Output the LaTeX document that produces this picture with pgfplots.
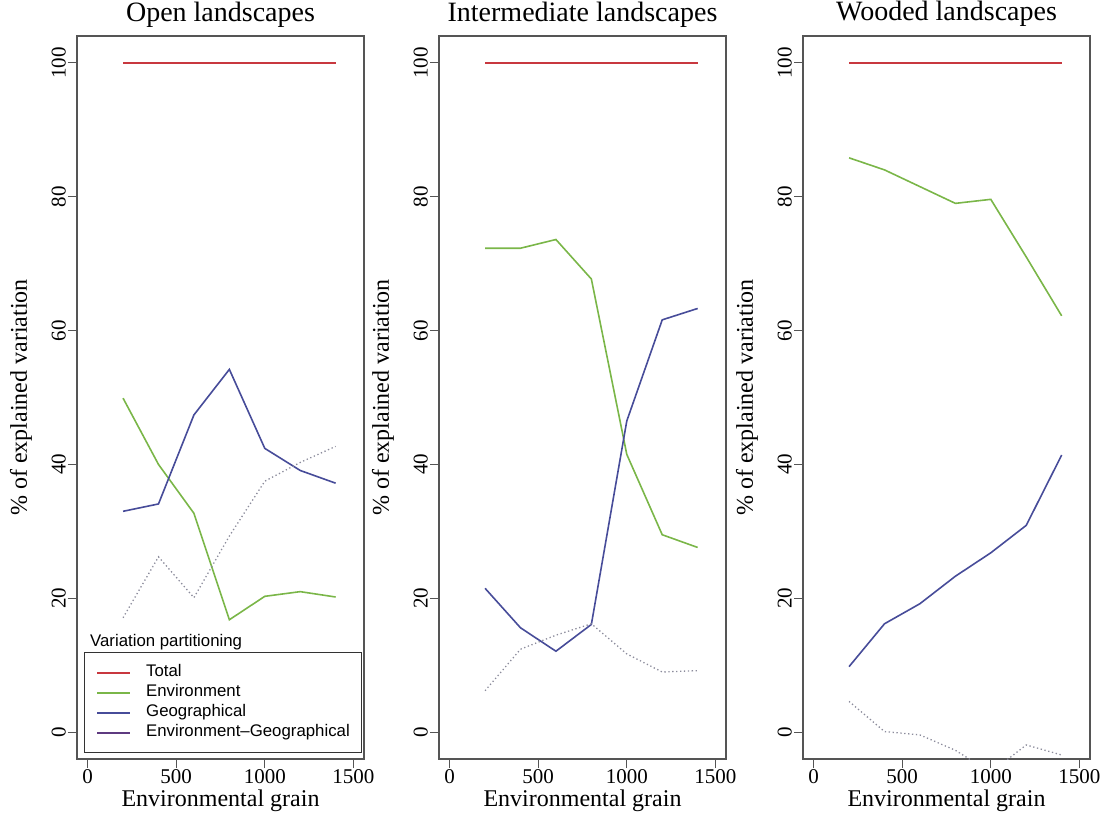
\documentclass[border=0pt]{standalone}
\usepackage{fontspec}
\setmainfont{Liberation Serif}
\newfontfamily\legfont{Liberation Sans}
\usepackage{pgfplots}
\pgfplotsset{compat=1.18}
\definecolor{cTot}{HTML}{C8383F}
\definecolor{cEnv}{HTML}{7AB648}
\definecolor{cGeo}{HTML}{474C99}
\definecolor{cEG}{HTML}{5E3A80}
\definecolor{cDot}{HTML}{8C8C9C}
\definecolor{cFrame}{HTML}{555555}
\pgfplotsset{
  panel/.style={
    scale only axis, width=287pt, height=723pt,
    xmin=-60, xmax=1560, ymin=-4, ymax=104,
    xtick={0,500,1000,1500}, ytick={0,20,40,60,80,100},
    xtick pos=bottom, ytick pos=left,
    tick align=outside, major tick length=9pt,
    axis line style={cFrame, line width=1.3pt},
    every tick/.style={cFrame, line width=1.2pt},
    /pgf/number format/assume math mode=true,
    /pgf/number format/1000 sep={},
    ticklabel style={font=\fontsize{21}{25}\selectfont},
    yticklabel style={rotate=90, anchor=south, inner sep=2pt},
    xticklabel style={inner sep=1pt},
    xlabel={Environmental grain},
    ylabel={\% of explained variation},
    label style={font=\fontsize{24}{28}\selectfont},
    xlabel style={at={(axis description cs:0.5,-0.066)}, anchor=base, inner sep=0pt},
    ylabel style={at={(axis description cs:-0.195,0.5)}, anchor=center},
    title style={font=\fontsize{28}{33}\selectfont, at={(axis description cs:0.5,1)}, anchor=base, yshift=9pt},
    tot/.style={cTot, line width=1.6pt},
    env/.style={cEnv, line width=1.6pt},
    geo/.style={cGeo, line width=1.6pt},
    eg/.style={cDot, line width=1.3pt, dash pattern=on 1.3pt off 2.6pt},
  }
}
\begin{document}
\begin{tikzpicture}
\useasboundingbox (0pt,0pt) rectangle (1105pt,-813pt);
% Panel 1
\begin{axis}[panel, at={(77pt,-759pt)}, anchor=south west, title={Open landscapes},
  legend style={at={(axis cs:-20,-3.1)}, anchor=south west, draw=black!80, line width=1pt,
    font=\legfont\fontsize{16.8}{20}\selectfont, inner xsep=12pt, inner ysep=12pt,
    row sep=4.5pt, column sep=15pt,
    nodes={inner sep=0pt, text height=12pt, text depth=3.5pt}},
  legend cell align=left,
  legend image code/.code={\draw[#1, line width=1.6pt, solid] (0pt,0pt) -- (33pt,0pt);}]
\addplot[tot, forget plot] coordinates {(200,100)(400,100)(600,100)(800,100)(1000,100)(1200,100)(1400,100)};
\addplot[env, forget plot] coordinates {(200,49.9)(400,40.0)(600,32.7)(800,16.8)(1000,20.3)(1200,21.0)(1400,20.2)};
\addplot[geo, forget plot] coordinates {(200,33.0)(400,34.1)(600,47.4)(800,54.2)(1000,42.4)(1200,39.1)(1400,37.2)};
\addplot[eg, forget plot] coordinates {(200,17.1)(400,26.2)(600,20.1)(800,29.3)(1000,37.5)(1200,40.3)(1400,42.7)};
\addlegendimage{cTot}
\addlegendentry{Total}
\addlegendimage{cEnv}
\addlegendentry{Environment}
\addlegendimage{cGeo}
\addlegendentry{Geographical}
\addlegendimage{cEG}
\addlegendentry{Environment\textendash Geographical}
\node[anchor=west, inner sep=0pt, font=\legfont\fontsize{16.8}{20}\selectfont] at (axis cs:13,13.5) {Variation partitioning};
\end{axis}
% Panel 2
\begin{axis}[panel, at={(439pt,-759pt)}, anchor=south west, title={Intermediate landscapes}]
\addplot[tot] coordinates {(200,100)(400,100)(600,100)(800,100)(1000,100)(1200,100)(1400,100)};
\addplot[env] coordinates {(200,72.3)(400,72.3)(600,73.6)(800,67.7)(1000,41.5)(1200,29.5)(1400,27.6)};
\addplot[geo] coordinates {(200,21.5)(400,15.6)(600,12.1)(800,16.1)(1000,46.5)(1200,61.6)(1400,63.3)};
\addplot[eg] coordinates {(200,6.2)(400,12.4)(600,14.5)(800,16.2)(1000,11.7)(1200,9.0)(1400,9.2)};
\end{axis}
% Panel 3
\begin{axis}[panel, at={(803pt,-759pt)}, anchor=south west, title={Wooded landscapes}]
\addplot[tot] coordinates {(200,100)(400,100)(600,100)(800,100)(1000,100)(1200,100)(1400,100)};
\addplot[env] coordinates {(200,85.8)(400,84.0)(600,81.5)(800,79.0)(1000,79.6)(1200,71.0)(1400,62.2)};
\addplot[geo] coordinates {(200,9.8)(400,16.2)(600,19.2)(800,23.3)(1000,26.8)(1200,30.9)(1400,41.4)};
\addplot[eg] coordinates {(200,4.6)(400,0.1)(600,-0.4)(800,-2.7)(1000,-6.0)(1200,-1.9)(1400,-3.4)};
\end{axis}
\end{tikzpicture}
\end{document}
